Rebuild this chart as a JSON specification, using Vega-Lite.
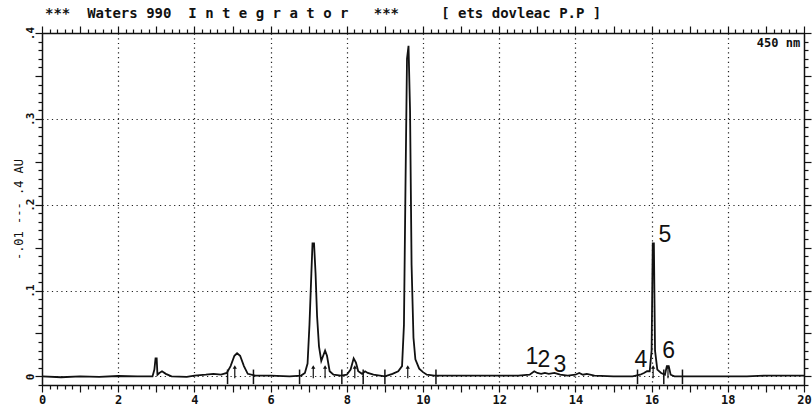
{
  "$schema": "https://vega.github.io/schema/vega-lite/v6.json",
  "width": 762,
  "height": 352,
  "autosize": {"type": "none"},
  "padding": {"left": 42, "top": 33, "right": 8, "bottom": 23},
  "background": "white",
  "title": {
    "text": "***\u00a0\u00a0Waters 990\u00a0\u00a0I n t e g r a t o r\u00a0\u00a0\u00a0***\u00a0\u00a0\u00a0\u00a0\u00a0[ ets dovleac P.P ]",
    "anchor": "start",
    "frame": "group",
    "font": "DejaVu Sans Mono",
    "fontSize": 14,
    "fontWeight": "bold",
    "color": "#111",
    "offset": 4,
    "dx": 3
  },
  "datasets": {
    "trace": [
      {"t": 0, "au": 0.0}, {"t": 0.5, "au": -0.001}, {"t": 1.0, "au": 0.0}, {"t": 1.5, "au": -0.0005},
      {"t": 2.0, "au": 0.0005}, {"t": 2.5, "au": 0.0}, {"t": 2.9, "au": 0.0}, {"t": 2.95, "au": 0.008},
      {"t": 2.98, "au": 0.021}, {"t": 3.01, "au": 0.021}, {"t": 3.03, "au": 0.002}, {"t": 3.08, "au": 0.004},
      {"t": 3.15, "au": 0.006}, {"t": 3.25, "au": 0.003}, {"t": 3.4, "au": 0.0}, {"t": 3.8, "au": -0.0005},
      {"t": 4.0, "au": 0.001}, {"t": 4.3, "au": 0.002}, {"t": 4.5, "au": 0.003}, {"t": 4.7, "au": 0.002},
      {"t": 4.85, "au": 0.004}, {"t": 4.95, "au": 0.012}, {"t": 5.05, "au": 0.024}, {"t": 5.12, "au": 0.027},
      {"t": 5.2, "au": 0.024}, {"t": 5.3, "au": 0.012}, {"t": 5.4, "au": 0.003}, {"t": 5.6, "au": 0.001},
      {"t": 6.0, "au": 0.001}, {"t": 6.5, "au": 0.0}, {"t": 6.8, "au": 0.001}, {"t": 6.9, "au": 0.004},
      {"t": 6.97, "au": 0.015}, {"t": 7.02, "au": 0.06}, {"t": 7.07, "au": 0.12}, {"t": 7.1, "au": 0.155},
      {"t": 7.14, "au": 0.155}, {"t": 7.18, "au": 0.12}, {"t": 7.22, "au": 0.07}, {"t": 7.27, "au": 0.035},
      {"t": 7.33, "au": 0.018}, {"t": 7.38, "au": 0.024}, {"t": 7.43, "au": 0.03}, {"t": 7.48, "au": 0.024},
      {"t": 7.55, "au": 0.006}, {"t": 7.65, "au": 0.002}, {"t": 7.85, "au": 0.001}, {"t": 8.0, "au": 0.002},
      {"t": 8.1, "au": 0.008}, {"t": 8.18, "au": 0.021}, {"t": 8.24, "au": 0.016}, {"t": 8.3, "au": 0.006},
      {"t": 8.4, "au": 0.003}, {"t": 8.48, "au": 0.006}, {"t": 8.55, "au": 0.004}, {"t": 8.7, "au": 0.002},
      {"t": 9.0, "au": 0.0}, {"t": 9.2, "au": 0.003}, {"t": 9.35, "au": 0.006}, {"t": 9.45, "au": 0.012},
      {"t": 9.5, "au": 0.06}, {"t": 9.54, "au": 0.22}, {"t": 9.58, "au": 0.37}, {"t": 9.62, "au": 0.385},
      {"t": 9.66, "au": 0.31}, {"t": 9.7, "au": 0.13}, {"t": 9.75, "au": 0.045}, {"t": 9.8, "au": 0.02},
      {"t": 9.9, "au": 0.009}, {"t": 10.0, "au": 0.005}, {"t": 10.1, "au": 0.002}, {"t": 10.3, "au": 0.001},
      {"t": 10.8, "au": 0.001}, {"t": 11.5, "au": 0.001}, {"t": 12.0, "au": 0.001}, {"t": 12.5, "au": 0.001},
      {"t": 12.8, "au": 0.002}, {"t": 12.92, "au": 0.006}, {"t": 13.0, "au": 0.004}, {"t": 13.1, "au": 0.003},
      {"t": 13.2, "au": 0.004}, {"t": 13.3, "au": 0.003}, {"t": 13.45, "au": 0.004}, {"t": 13.6, "au": 0.002},
      {"t": 13.8, "au": 0.001}, {"t": 14.0, "au": 0.002}, {"t": 14.1, "au": 0.004}, {"t": 14.2, "au": 0.002},
      {"t": 14.3, "au": 0.003}, {"t": 14.5, "au": 0.001}, {"t": 15.0, "au": 0.0}, {"t": 15.5, "au": 0.0},
      {"t": 15.7, "au": 0.002}, {"t": 15.8, "au": 0.004}, {"t": 15.88, "au": 0.006}, {"t": 15.95, "au": 0.006},
      {"t": 16.0, "au": 0.03}, {"t": 16.03, "au": 0.155}, {"t": 16.06, "au": 0.155}, {"t": 16.09, "au": 0.03},
      {"t": 16.15, "au": 0.008}, {"t": 16.25, "au": 0.004}, {"t": 16.35, "au": 0.002}, {"t": 16.4, "au": 0.012},
      {"t": 16.45, "au": 0.012}, {"t": 16.5, "au": 0.002}, {"t": 16.6, "au": 0.0}, {"t": 16.8, "au": 0.0},
      {"t": 17.5, "au": 0.0}, {"t": 18.0, "au": 0.0}, {"t": 18.5, "au": 0.0}, {"t": 19.0, "au": 0.001},
      {"t": 19.5, "au": 0.001}, {"t": 20.0, "au": 0.001}
    ],
    "markers": [
      {"t": 4.87, "kind": "tick"}, {"t": 5.55, "kind": "tick"}, {"t": 6.76, "kind": "tick"},
      {"t": 7.87, "kind": "tick"}, {"t": 8.43, "kind": "tick"}, {"t": 9.0, "kind": "tick"},
      {"t": 10.34, "kind": "tick"}, {"t": 15.63, "kind": "tick"}, {"t": 16.32, "kind": "tick"},
      {"t": 16.81, "kind": "tick"},
      {"t": 5.06, "kind": "arrow"}, {"t": 7.12, "kind": "arrow"}, {"t": 7.43, "kind": "arrow"},
      {"t": 8.21, "kind": "arrow"}, {"t": 9.6, "kind": "arrow"}, {"t": 16.04, "kind": "arrow"},
      {"t": 16.43, "kind": "arrow"}
    ],
    "labels": [
      {"t": 12.86, "au": 0.0139, "label": "1"},
      {"t": 13.17, "au": 0.0104, "label": "2"},
      {"t": 13.59, "au": 0.0046, "label": "3"},
      {"t": 15.72, "au": 0.0104, "label": "4"},
      {"t": 16.35, "au": 0.156, "label": "5"},
      {"t": 16.45, "au": 0.0209, "label": "6"}
    ]
  },
  "resolve": {"axis": {"x": "independent", "y": "independent"}},
  "layer": [
    {
      "data": {"name": "trace"},
      "mark": {"type": "line", "color": "#111", "strokeWidth": 1.8, "interpolate": "linear"},
      "encoding": {
        "x": {
          "field": "t", "type": "quantitative",
          "scale": {"domain": [0, 20], "nice": false, "zero": false},
          "axis": {
            "orient": "bottom", "title": null,
            "values": [0,0.2,0.4,0.6,0.8,1,1.2,1.4,1.6,1.8,2,2.2,2.4,2.6,2.8,3,3.2,3.4,3.6,3.8,4,4.2,4.4,4.6,4.8,5,5.2,5.4,5.6,5.8,6,6.2,6.4,6.6,6.8,7,7.2,7.4,7.6,7.8,8,8.2,8.4,8.6,8.8,9,9.2,9.4,9.6,9.8,10,10.2,10.4,10.6,10.8,11,11.2,11.4,11.6,11.8,12,12.2,12.4,12.6,12.8,13,13.2,13.4,13.6,13.8,14,14.2,14.4,14.6,14.8,15,15.2,15.4,15.6,15.8,16,16.2,16.4,16.6,16.8,17,17.2,17.4,17.6,17.8,18,18.2,18.4,18.6,18.8,19,19.2,19.4,19.6,19.8,20],
            "labelExpr": "abs(datum.value - round(datum.value/2)*2) < 0.001 ? format(datum.value, 'd') : ''",
            "labelOverlap": false, "labelFlush": false, "labelBound": false,
            "labelFont": "DejaVu Sans Mono", "labelFontSize": 12, "labelFontWeight": "bold", "labelColor": "#111",
            "labelPadding": 2,
            "domainColor": "#111", "domainWidth": 1.5,
            "tickColor": "#111", "tickWidth": 1.2,
            "tickSize": {"condition": {"test": "abs(datum.value - round(datum.value)) < 0.001", "value": 7}, "value": 4},
            "grid": true,
            "gridColor": "#222", "gridDash": [1.2, 3.5], "gridWidth": 1.2,
            "gridOpacity": {"condition": {"test": "abs(datum.value - round(datum.value/2)*2) < 0.001 && datum.value > 0.5 && datum.value < 19.5", "value": 1}, "value": 0}
          }
        },
        "y": {
          "field": "au", "type": "quantitative",
          "scale": {"domain": [-0.01, 0.4], "nice": false, "zero": false},
          "axis": {
            "orient": "left",
            "title": "-.01 --- .4 AU",
            "titleFont": "DejaVu Sans Mono", "titleFontSize": 12, "titleFontWeight": "normal", "titleColor": "#111",
            "titleX": -24, "titleY": 176, "titleAngle": -90, "titleAlign": "center", "titleBaseline": "middle",
            "values": [-0.01,0,0.01,0.02,0.03,0.04,0.05,0.06,0.07,0.08,0.09,0.1,0.11,0.12,0.13,0.14,0.15,0.16,0.17,0.18,0.19,0.2,0.21,0.22,0.23,0.24,0.25,0.26,0.27,0.28,0.29,0.3,0.31,0.32,0.33,0.34,0.35,0.36,0.37,0.38,0.39,0.4],
            "labelExpr": "abs(datum.value*10 - round(datum.value*10)) < 0.001 ? (abs(datum.value) < 0.001 ? '0' : replace(format(datum.value, '.1f'), '0.', '.')) : ''",
            "labelAngle": -90, "labelOverlap": false, "labelFlush": false, "labelBound": false,
            "labelFont": "DejaVu Sans Mono", "labelFontSize": 11, "labelFontWeight": "bold", "labelColor": "#111",
            "labelPadding": 0,
            "domainColor": "#111", "domainWidth": 1.5,
            "tickColor": "#111", "tickWidth": 1.2,
            "tickSize": {"condition": {"test": "abs(datum.value*20 - round(datum.value*20)) < 0.001", "value": 7}, "value": 4},
            "grid": true,
            "gridColor": "#222", "gridDash": [1.2, 3.5], "gridWidth": 1.2,
            "gridOpacity": {"condition": {"test": "abs(datum.value*10 - round(datum.value*10)) < 0.001 && datum.value > -0.005 && datum.value < 0.35", "value": 1}, "value": 0}
          }
        }
      }
    },
    {
      "data": {"name": "labels"},
      "mark": {"type": "text", "font": "Liberation Sans", "fontSize": 23, "color": "#111", "align": "center", "baseline": "alphabetic"},
      "encoding": {
        "x": {
          "field": "t", "type": "quantitative",
          "scale": {"domain": [0, 20], "nice": false, "zero": false},
          "axis": {
            "orient": "top", "title": null, "labels": false, "grid": false,
            "values": [0,0.2,0.4,0.6,0.8,1,1.2,1.4,1.6,1.8,2,2.2,2.4,2.6,2.8,3,3.2,3.4,3.6,3.8,4,4.2,4.4,4.6,4.8,5,5.2,5.4,5.6,5.8,6,6.2,6.4,6.6,6.8,7,7.2,7.4,7.6,7.8,8,8.2,8.4,8.6,8.8,9,9.2,9.4,9.6,9.8,10,10.2,10.4,10.6,10.8,11,11.2,11.4,11.6,11.8,12,12.2,12.4,12.6,12.8,13,13.2,13.4,13.6,13.8,14,14.2,14.4,14.6,14.8,15,15.2,15.4,15.6,15.8,16,16.2,16.4,16.6,16.8,17,17.2,17.4,17.6,17.8,18,18.2,18.4,18.6,18.8,19,19.2,19.4,19.6,19.8,20],
            "domainColor": "#111", "domainWidth": 1.5,
            "tickColor": "#111", "tickWidth": 1.2,
            "tickSize": {"condition": {"test": "abs(datum.value - round(datum.value)) < 0.001", "value": 7}, "value": 4}
          }
        },
        "y": {
          "field": "au", "type": "quantitative",
          "scale": {"domain": [-0.01, 0.4], "nice": false, "zero": false},
          "axis": {
            "orient": "right", "title": null, "labels": false, "grid": false,
            "values": [-0.01,0,0.01,0.02,0.03,0.04,0.05,0.06,0.07,0.08,0.09,0.1,0.11,0.12,0.13,0.14,0.15,0.16,0.17,0.18,0.19,0.2,0.21,0.22,0.23,0.24,0.25,0.26,0.27,0.28,0.29,0.3,0.31,0.32,0.33,0.34,0.35,0.36,0.37,0.38,0.39,0.4],
            "domainColor": "#111", "domainWidth": 1.5,
            "tickColor": "#111", "tickWidth": 1.2,
            "tickSize": {"condition": {"test": "abs(datum.value*20 - round(datum.value*20)) < 0.001", "value": 7}, "value": 4}
          }
        },
        "text": {"field": "label", "type": "nominal"}
      }
    },
    {
      "data": {"name": "markers"},
      "transform": [{"filter": "datum.kind === 'tick'"}],
      "mark": {"type": "rule", "color": "#111", "strokeWidth": 1.5},
      "encoding": {
        "x": {"field": "t", "type": "quantitative", "scale": {"domain": [0, 20], "nice": false, "zero": false}, "axis": null},
        "y": {"datum": -0.009, "type": "quantitative", "axis": null},
        "y2": {"datum": 0.008}
      }
    },
    {
      "data": {"name": "markers"},
      "transform": [{"filter": "datum.kind === 'arrow'"}],
      "mark": {"type": "rule", "color": "#111", "strokeWidth": 1.2},
      "encoding": {
        "x": {"field": "t", "type": "quantitative", "scale": {"domain": [0, 20], "nice": false, "zero": false}, "axis": null},
        "y": {"datum": -0.002, "type": "quantitative", "axis": null},
        "y2": {"datum": 0.011}
      }
    },
    {
      "data": {"name": "markers"},
      "transform": [{"filter": "datum.kind === 'arrow'"}],
      "mark": {"type": "point", "shape": "triangle-up", "filled": true, "color": "#111", "size": 18, "opacity": 1},
      "encoding": {
        "x": {"field": "t", "type": "quantitative", "scale": {"domain": [0, 20], "nice": false, "zero": false}, "axis": null},
        "y": {"datum": 0.011, "type": "quantitative", "axis": null}
      }
    },
    {
      "data": {"values": [{"t": 19.9, "au": 0.384, "label": "450 nm"}]},
      "mark": {"type": "text", "font": "DejaVu Sans Mono", "fontSize": 12, "fontWeight": "bold", "color": "#111", "align": "right", "baseline": "alphabetic"},
      "encoding": {
        "x": {"field": "t", "type": "quantitative", "scale": {"domain": [0, 20], "nice": false, "zero": false}, "axis": null},
        "y": {"field": "au", "type": "quantitative", "axis": null},
        "text": {"field": "label", "type": "nominal"}
      }
    }
  ],
  "config": {"view": {"stroke": "#111", "strokeWidth": 1}}
}
